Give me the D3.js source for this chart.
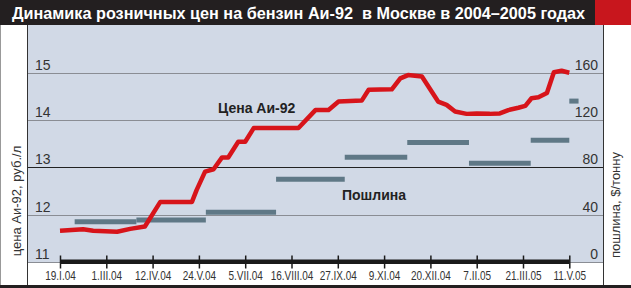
<!DOCTYPE html>
<html>
<head>
<meta charset="utf-8">
<script src="https://cdn.jsdelivr.net/npm/d3@7"></script>
<style>
  body { margin: 0; background: #fff; }
  svg { display: block; }
</style>
</head>
<body>
<div id="chart"></div>
<script>
var width = 631;
var height = 288;

// weeks since 19.I.04, ticks every 6 weeks
var tickLabels = ["19.I.04", "1.III.04", "12.IV.04", "24.V.04", "5.VII.04", "16.VIII.04",
  "27.IX.04", "9.XI.04", "20.XII.04", "7.II.05", "21.III.05", "11.V.05"];
var tickWeeks = [0, 6, 12, 18, 24, 30, 36, 42, 48, 54, 60, 66];

// retail price of Ai-92, rub per litre
var priceWeeks = [0, 3, 4.3, 7.4, 9.1, 11, 13, 17.1, 17.7, 18.8, 19.9, 21, 21.8, 23.1, 24, 25.1,
  30.9, 33.1, 34.8, 36.1, 39.1, 40, 43, 44.1, 45.1, 46.9, 49, 50.1, 51.2, 52.7, 54, 55.7,
  57, 58.1, 59.4, 60.3, 61.1, 62, 63.1, 64, 65, 66];
var priceValues = [11.66, 11.69, 11.66, 11.64, 11.7, 11.75, 12.27, 12.27, 12.52, 12.91, 12.96, 13.21,
  13.21, 13.54, 13.54, 13.83, 13.83, 14.21, 14.21, 14.39, 14.41, 14.64, 14.65, 14.88, 14.95, 14.92,
  14.39, 14.32, 14.18, 14.13, 14.14, 14.13, 14.14, 14.21, 14.26, 14.3, 14.46, 14.48, 14.57,
  15.01, 15.04, 15.0];

// export duty, $ per tonne
var dutyStart = [1.9, 9.9, 18.9, 28, 36.9, 45, 53, 61, 66];
var dutyEnd = [9.9, 18.9, 28, 36.9, 45, 53, 61, 66, 67.2];
var dutyValues = [34, 35.5, 42, 70, 88.5, 101, 83.5, 103, 136];

var leftTicks = [11, 12, 13, 14, 15];
var rightTicks = [0, 40, 80, 120, 160];

var plotLeft = 27, plotRight = 603, plotTop = 25, plotBottom = 262;

var svg = d3.select("#chart")
  .append("svg")
  .attr("width", width)
  .attr("height", height);

var x = d3.scaleLinear().domain([0, 66]).range([60, 569.3]);
var yPrice = d3.scaleLinear().domain([11, 15]).range([262, 72.7]);
var yDuty = d3.scaleLinear().domain([0, 160]).range([262, 72.7]);

//title bar
svg.append("rect")
  .attr("x", 0).attr("y", 0)
  .attr("width", width).attr("height", plotTop)
  .style("fill", "#231f20");
svg.append("rect")
  .attr("x", 595).attr("y", 0)
  .attr("width", width - 595).attr("height", plotTop)
  .style("fill", "#c8161d");
svg.append("text")
  .attr("x", 12).attr("y", 19)
  .attr("textLength", 573)
  .attr("lengthAdjust", "spacingAndGlyphs")
  .style("white-space", "pre")
  .style("font-family", "'Liberation Sans Narrow', 'Liberation Sans', sans-serif")
  .style("font-weight", "bold")
  .style("font-size", "17px")
  .style("fill", "#fff")
  .text("Динамика розничных цен на бензин Аи-92  в Москве в 2004–2005 годах");

//plot background
svg.append("rect")
  .attr("x", plotLeft).attr("y", plotTop)
  .attr("width", plotRight - plotLeft).attr("height", plotBottom - plotTop)
  .style("fill", "#d1d9e6");

//grid lines
svg.append("g")
  .selectAll("line")
  .data(leftTicks)
  .enter().append("line")
  .attr("x1", plotLeft).attr("x2", plotRight)
  .attr("y1", function(d) { return Math.round(yPrice(d)) + 0.5; })
  .attr("y2", function(d) { return Math.round(yPrice(d)) + 0.5; })
  .style("stroke", function(d) { return d == 13 ? "#222" : "#8a8d94"; })
  .style("stroke-width", 1.2);

//frame lines
svg.append("line")
  .attr("x1", plotLeft + 0.5).attr("x2", plotLeft + 0.5)
  .attr("y1", plotTop).attr("y2", 286)
  .style("stroke", "#333").style("stroke-width", 1);
svg.append("line")
  .attr("x1", plotRight + 0.5).attr("x2", plotRight + 0.5)
  .attr("y1", plotTop).attr("y2", 286)
  .style("stroke", "#333").style("stroke-width", 1);
svg.append("line")
  .attr("x1", 0.5).attr("x2", 0.5)
  .attr("y1", plotTop).attr("y2", 286)
  .style("stroke", "#999").style("stroke-width", 1);
svg.append("rect")
  .attr("x", 0).attr("y", 285)
  .attr("width", width).attr("height", 3)
  .style("fill", "#231f20");

//left tick labels
var tickFont = "'Liberation Sans', Arial, sans-serif";
svg.append("g")
  .selectAll("text")
  .data(leftTicks)
  .enter().append("text")
  .attr("x", 35)
  .attr("y", function(d) { return yPrice(d) - 3; })
  .style("font-family", tickFont)
  .style("font-size", "14px")
  .style("fill", "#333")
  .text(function(d) { return d; });

//right tick labels
svg.append("g")
  .selectAll("text")
  .data(rightTicks)
  .enter().append("text")
  .attr("x", 598)
  .attr("y", function(d) { return yDuty(d) - 3; })
  .attr("text-anchor", "end")
  .style("font-family", tickFont)
  .style("font-size", "14px")
  .style("fill", "#333")
  .text(function(d) { return d; });

//axis titles
svg.append("text")
  .attr("transform", "translate(21,201) rotate(-90)")
  .attr("text-anchor", "middle")
  .style("font-family", tickFont)
  .style("font-size", "13px")
  .style("fill", "#333")
  .text("цена Аи-92, руб./л");
svg.append("text")
  .attr("transform", "translate(620,205) rotate(-90)")
  .attr("text-anchor", "middle")
  .style("font-family", tickFont)
  .style("font-size", "13px")
  .style("fill", "#333")
  .text("пошлина, $/тонну");

//duty bars
svg.append("g")
  .selectAll("line")
  .data(dutyValues)
  .enter().append("line")
  .attr("x1", function(d, i) { return x(dutyStart[i]); })
  .attr("x2", function(d, i) { return x(dutyEnd[i]); })
  .attr("y1", function(d) { return yDuty(d); })
  .attr("y2", function(d) { return yDuty(d); })
  .style("stroke", "#5f7886")
  .style("stroke-width", 5);

//price line
var line = d3.line()
  .x(function(d, i) { return x(priceWeeks[i]); })
  .y(function(d) { return yPrice(d); });

svg.append("path")
  .datum(priceValues)
  .attr("d", line)
  .style("fill", "none")
  .style("stroke", "#d7141a")
  .style("stroke-width", 4.5)
  .style("stroke-linejoin", "round");

//x axis
svg.append("line")
  .attr("x1", x(0)).attr("x2", x(66))
  .attr("y1", 261.7).attr("y2", 261.7)
  .style("stroke", "#1a1a1a")
  .style("stroke-width", 4.5);

var xAxis = d3.axisBottom(x)
  .tickValues(tickWeeks)
  .tickSize(0)
  .tickFormat(function(d, i) { return tickLabels[i]; });

var xg = svg.append("g")
  .attr("transform", "translate(0,262)")
  .call(xAxis);
xg.select(".domain").remove();
xg.selectAll(".tick").append("line")
  .attr("y1", -6.5).attr("y2", 6.5)
  .style("stroke", "#1a1a1a").style("stroke-width", 1.5);
//narrow the date labels, the source uses a condensed face
xg.selectAll(".tick text")
  .attr("y", 0).attr("dy", 0)
  .attr("transform", "translate(0,18) scale(0.8,1)")
  .style("font-family", tickFont)
  .style("font-size", "12.5px")
  .style("fill", "#333");

//series labels
svg.append("text")
  .attr("x", 218).attr("y", 112.5)
  .style("font-family", tickFont)
  .style("font-weight", "bold")
  .style("font-size", "14px")
  .style("fill", "#222")
  .text("Цена Аи-92");
svg.append("text")
  .attr("x", 342).attr("y", 199.5)
  .style("font-family", tickFont)
  .style("font-weight", "bold")
  .style("font-size", "14px")
  .style("fill", "#222")
  .text("Пошлина");
</script>
</body>
</html>
